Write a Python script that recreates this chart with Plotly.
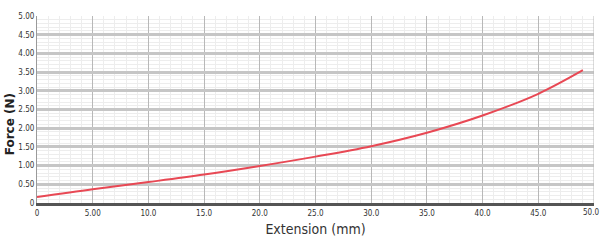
import plotly.graph_objects as go

extension_mm = [0, 5, 10, 15, 20, 25, 30, 35, 40, 45, 49]
force_n = [0.16, 0.37, 0.56, 0.76, 0.99, 1.24, 1.52, 1.88, 2.34, 2.92, 3.55]

x_tick_vals = [0, 5, 10, 15, 20, 25, 30, 35, 40, 45, 50]
x_tick_text = ["0", "5.00", "10.0", "15.0", "20.0", "25.0", "30.0", "35.0", "40.0", "45.0", "50.0"]
y_tick_vals = [0, 0.5, 1.0, 1.5, 2.0, 2.5, 3.0, 3.5, 4.0, 4.5, 5.0]
y_tick_text = ["0", "0.50", "1.00", "1.50", "2.00", "2.50", "3.00", "3.50", "4.00", "4.50", "5.00"]

font_family = "Liberation Sans Narrow, DejaVu Sans Condensed, Liberation Sans, sans-serif"
tick_font = dict(family=font_family, size=8, color="#333333")

fig = go.Figure()
fig.add_trace(go.Scatter(
    x=extension_mm, y=force_n, mode="lines",
    line=dict(color="rgb(232,72,84)", width=2, shape="spline", smoothing=1.0),
    hoverinfo="skip", showlegend=False,
))

# last x tick label drawn as an annotation so it stays inside the page
shown_x_text = x_tick_text[:-1] + [""]

fig.update_layout(
    width=601, height=247,
    margin=dict(l=37, r=7, t=16, b=44),
    paper_bgcolor="white", plot_bgcolor="white",
    xaxis=dict(
        range=[0, 50], tickvals=x_tick_vals, ticktext=shown_x_text,
        tickfont=tick_font, ticks="", ticklen=0, automargin=False,
        ticklabeloverflow="allow",
        showgrid=True, gridcolor="#b8b8b8", gridwidth=1,
        minor=dict(dtick=1, showgrid=True, gridcolor="#ededed", gridwidth=1),
        showline=True, linecolor="#555555", linewidth=3, mirror=False,
        zeroline=False,
        title=dict(text="Extension (mm)", standoff=8,
                   font=dict(family=font_family, size=14, color="#333333")),
    ),
    yaxis=dict(
        range=[0, 5.0], tickvals=y_tick_vals, ticktext=y_tick_text,
        tickfont=tick_font, ticks="", ticklen=0, automargin=False,
        ticklabeloverflow="allow",
        showgrid=True, gridcolor="#c6c6c6", gridwidth=3,
        minor=dict(dtick=0.1, showgrid=True, gridcolor="#ededed", gridwidth=1),
        showline=True, linecolor="#9a9a9a", linewidth=1,
        zeroline=False,
    ),
    annotations=[
        dict(text="<b>Force (N)</b>", xref="paper", yref="paper",
             x=-0.047, y=0.42, xanchor="center", yanchor="middle",
             textangle=-90, showarrow=False,
             font=dict(family="DejaVu Sans", size=12, color="#222222")),
        dict(text=x_tick_text[-1], xref="x", yref="paper",
             x=x_tick_vals[-1], y=0, xanchor="right", yanchor="top",
             xshift=7, yshift=-3, showarrow=False, font=tick_font),
    ],
    shapes=[dict(type="line", xref="x", yref="paper", x0=50, x1=50, y0=0, y1=1,
                 line=dict(color="#b8b8b8", width=1))],
)

fig.write_html("out.html", config={"displayModeBar": False},
               post_script="document.body.style.margin='0px';document.body.style.overflow='hidden';")
